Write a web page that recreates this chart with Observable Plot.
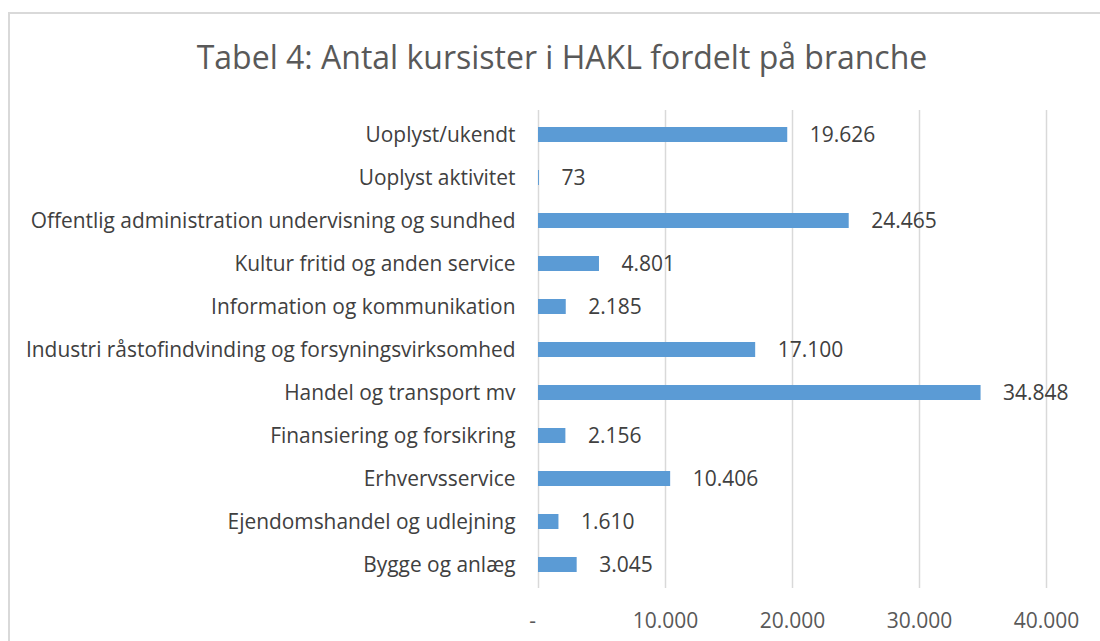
<!DOCTYPE html>
<html>
<head>
<meta charset="utf-8">
<script src="https://cdn.jsdelivr.net/npm/d3@7"></script>
<script src="https://cdn.jsdelivr.net/npm/@observablehq/plot@0.6"></script>
<style>
  html, body { margin: 0; padding: 0; background: #fff; overflow: hidden; }
  body { width: 1100px; height: 641px; position: relative; font-family: "Open Sans", sans-serif; }
  #frame { position: absolute; left: 8px; top: 12px; width: 1110px; height: 650px; border: 2px solid #d9d9d9; box-sizing: border-box; }
  #title { position: absolute; left: 0; top: 35px; width: 1124px; text-align: center; font-size: 32px; line-height: 44px; color: #595959; }
  #chart { position: absolute; left: 0; top: 100px; }
</style>
</head>
<body>
<div id="frame"></div>
<div id="title">Tabel 4: Antal kursister i HAKL fordelt på branche</div>
<div id="chart"></div>
<script>
const categories = [
  "Uoplyst/ukendt",
  "Uoplyst aktivitet",
  "Offentlig administration undervisning og sundhed",
  "Kultur fritid og anden service",
  "Information og kommunikation",
  "Industri råstofindvinding og forsyningsvirksomhed",
  "Handel og transport mv",
  "Finansiering og forsikring",
  "Erhvervsservice",
  "Ejendomshandel og udlejning",
  "Bygge og anlæg"
];
const values = [19626, 73, 24465, 4801, 2185, 17100, 34848, 2156, 10406, 1610, 3045];
const xTicks = [0, 10000, 20000, 30000, 40000];

const data = categories.map((c, i) => ({branche: c, antal: values[i]}));
const loc = d3.formatLocale({decimal: ",", thousands: ".", grouping: [3], currency: ["", " kr"]});
const fmt = loc.format(",d");
const tickFmt = d => d === 0 ? "-" : fmt(d);

const chart = Plot.plot({
  width: 1100,
  height: 541,
  marginTop: 10,
  marginBottom: 53,
  marginLeft: 538,
  marginRight: 54,
  style: {fontFamily: "'Open Sans', sans-serif", background: "transparent"},
  x: {domain: [0, 40000], ticks: xTicks, tickFormat: tickFmt, label: null, grid: false},
  y: {domain: categories, label: null, paddingInner: 0.655, paddingOuter: 0.322, align: 0.5},
  marks: [
    Plot.ruleX(xTicks, {stroke: "#d9d9d9", strokeWidth: 1.5}),
    Plot.barX(data, {x: "antal", y: "branche", fill: "#5b9bd5"}),
    Plot.text(data, {x: "antal", y: "branche", text: d => fmt(d.antal), textAnchor: "start", dx: 22, fontSize: 21, fill: "#404040"}),
    Plot.axisX(xTicks.filter(t => t !== 0), {tickFormat: tickFmt, tickSize: 0, tickPadding: 25, fontSize: 21, color: "#595959", label: null}),
    Plot.axisX([0], {tickFormat: tickFmt, tickSize: 0, tickPadding: 25, dx: -6, fontSize: 21, color: "#595959", label: null}),
    Plot.axisY({tickSize: 0, tickPadding: 23, fontSize: 20.9, color: "#404040", label: null})
  ]
});
document.getElementById("chart").appendChild(chart);
</script>
</body>
</html>
